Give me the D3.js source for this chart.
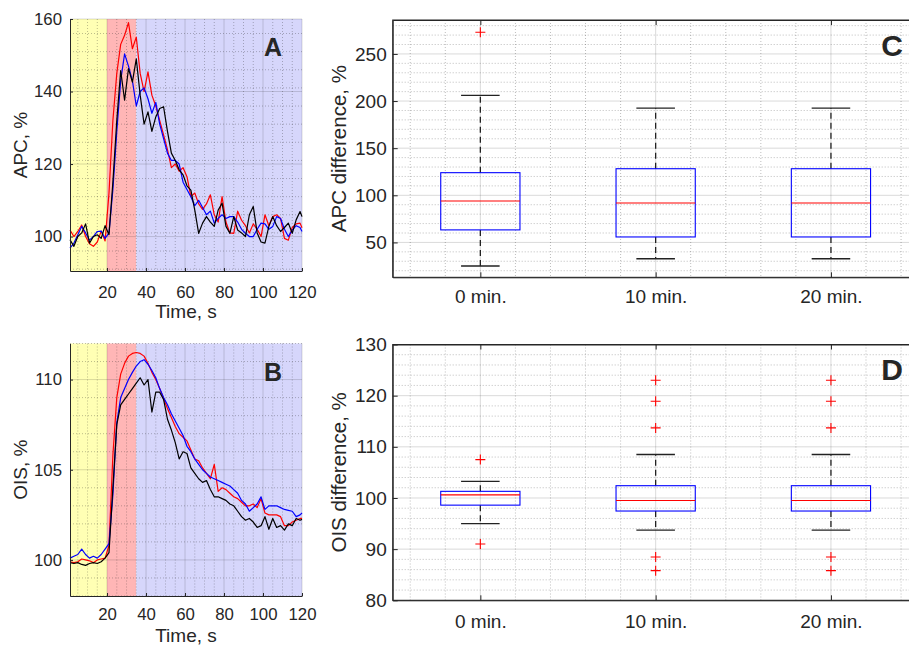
<!DOCTYPE html>
<html>
<head>
<meta charset="utf-8">
<script src="https://cdn.jsdelivr.net/npm/d3@7"></script>
<style>
body { margin: 0; background: #fff; }
text { font-family: 'Liberation Sans', Arial, Helvetica, sans-serif; fill: #262626; }
</style>
</head>
<body>
<svg width="909" height="648"></svg>
<script>
const svg = d3.select('svg');

// ---- data: time courses (A: APC, B: OIS), sampled every 2 s ----
const time = [1,3,5,7,9,11,13,15,17,19,21,23,25,27,29,31,33,35,37,39,41,43,45,47,49,51,53,55,57,59,
  61,63,65,67,69,71,73,75,77,79,81,83,85,87,89,91,93,95,97,99,101,103,105,107,109,111,113,115,117,119,120];

const apcRed = [101.8,100,101.4,103.2,100,98,97.3,98.5,101.5,98.8,
  112,132,145,153,155.5,159,151.8,155,145,140,
  145.4,139,136,132,128,124,119,120,118,119,
  116.5,111,112,109,107.5,109,111.5,106,104,111,
  104,101,100.9,107,104.5,103,101,103.5,102,100,
  106,103,105.5,106,105,99.5,99,102.5,103.5,103.7,
  102.4];
const apcBlue = [96.8,98.2,100.5,102.8,101,99,100,101.4,101.5,99.5,
  101,113,129,143,150.4,147,143,136,140,141,
  138,134,137,131,127,123,121,121,120,115,
  113,111,108.5,110,108,106,107,103.7,105,106,
  105,105.5,105.5,104,102,100.9,100,100,102,103.7,
  103.5,102,102.8,105.5,105,102,100,101.8,103,102.5,
  101.4];
const apcBlack = [99.1,97.3,100,101,103.5,98.2,100,100.5,99.5,103,
  100.5,115,132,145.8,137.6,146.3,142.6,149,139,131,
  134.4,129,133,135.3,135.8,129,123,121,118.4,117,
  114,112.8,107.3,100.9,103.7,105.5,104,102.8,107.3,109.2,
  102.8,100.9,105.5,101.8,101,100,106,108.3,101,98.5,
  98.2,102.8,105.5,103,101.4,102.5,103.7,100.9,104.6,106.9,
  105.5];

const oisRed = [99.9,99.85,99.9,100.05,100,99.95,99.85,100,100.05,100.1,
  100.8,105.8,109,110.3,110.9,111.3,111.45,111.5,111.45,111.3,
  110.9,110.4,110,109.5,108.95,108.4,107.9,107.4,107,106.8,
  106.6,106.1,105.6,105.5,105.1,104.8,104.5,105.3,103.8,104,
  103.9,103.7,103.5,103.4,103.2,103,103,103.1,102.9,103.4,
  102.6,102.5,102.5,102.5,102.4,101.9,101.9,102.1,102.2,102.3,
  102.3];
const oisBlue = [100.1,100.2,100.3,100.6,100.3,100.1,100.2,100.1,100.3,100.6,
  100.9,103.6,107.6,109,109.5,110,110.4,110.75,111,111.1,
  110.85,110.5,110.1,109.5,109,108.6,108.1,107.7,107.3,106.9,
  106.3,106,105.6,105.3,105,104.8,104.6,104.5,104.4,104.3,
  104.2,104.1,103.9,103.7,103.3,103.1,102.7,102.9,103.1,103.5,
  102.8,103,103,103,102.9,102.8,102.75,102.7,102.4,102.5,
  102.6];
const oisBlack = [99.85,99.8,99.85,99.75,99.7,99.8,99.85,99.8,99.9,100.1,
  100.4,104,107.5,108.6,108.9,109.2,109.5,109.8,110.1,109.7,
  110,108.2,109.3,109.3,108.9,107.8,107.2,106.5,105.6,106,
  105.9,105.1,104.8,104.5,104.3,104.4,103.9,103.5,103.5,103.4,
  103.3,103.1,103,102.7,102.4,102.2,102.3,102.1,101.8,101.9,
  102.4,101.7,102.3,101.8,101.9,101.65,102,101.9,102.3,102.2,
  102.25];

// phase boundaries, s (rest / stimulus / recovery)
const phaseBounds = [1, 20, 35, 120];

const timeTicks = [20, 40, 60, 80, 100, 120];
const apcTicks = [100, 120, 140, 160];
const oisTicks = [100, 105, 110];

// ---- data: box plots (C: APC difference, D: OIS difference) ----
const boxCategories = ['0 min.', '10 min.', '20 min.'];

const apcLow = [25, 32.7, 32.7];
const apcQ1 = [63.3, 55.8, 55.8];
const apcMedian = [94, 91.8, 91.8];
const apcQ3 = [124, 128.2, 128.2];
const apcHigh = [206, 192.6, 192.6];
const apcOutliers = [[273], [], []];
const apcDiffTicks = [50, 100, 150, 200, 250];

const oisLow = [95, 93.7, 93.7];
const oisQ1 = [98.6, 97.45, 97.45];
const oisMedian = [100.6, 99.5, 99.5];
const oisQ3 = [101.3, 102.4, 102.4];
const oisHigh = [103.25, 108.5, 108.5];
const oisOutliers = [[107.5, 91], [123, 118.9, 113.7, 88.45, 85.8], [123, 118.9, 113.7, 88.45, 85.8]];
const oisDiffTicks = [80, 90, 100, 110, 120, 130];

// ---- styles ----
const axisColor = '#262626';
const seriesColors = ['#ff0000', '#0000ff', '#000000'];
const bandColors = ['#ffffb4', '#ffb6b6', '#d6d6fb'];

const grid = (g, x1, x2, y1, y2, minor) => {
  g.append('line')
    .attr('x1', x1).attr('x2', x2).attr('y1', y1).attr('y2', y2)
    .attr('stroke', axisColor)
    .attr('stroke-opacity', minor ? 0.3 : 0.17)
    .attr('stroke-dasharray', minor ? '1,2' : null)
    .attr('stroke-width', 1);
};

// ---- line panels ----
const linePanel = cfg => {
  const x = d3.scaleLinear().domain([1, 120]).range([70, 302]);
  const y = d3.scaleLinear().domain(cfg.yDomain).range([cfg.bottom, cfg.top]);
  const g = svg.append('g');

  // coloured phases
  g.selectAll('rect.band').data(d3.pairs(phaseBounds))
    .enter().append('rect')
      .attr('x', d => x(d[0]))
      .attr('width', d => x(d[1]) - x(d[0]))
      .attr('y', cfg.top)
      .attr('height', cfg.bottom - cfg.top)
      .attr('fill', (d, i) => bandColors[i]);

  // grid
  d3.range(5, 120, 5).filter(t => t % 20 !== 0)
    .forEach(t => grid(g, x(t), x(t), cfg.top, cfg.bottom, true));
  d3.range(Math.ceil(cfg.yDomain[0]), cfg.yDomain[1] + 0.01, cfg.minorStep)
    .filter(v => !cfg.ticks.includes(v))
    .forEach(v => grid(g, 70, 302, y(v), y(v), true));
  timeTicks.forEach(t => grid(g, x(t), x(t), cfg.top, cfg.bottom, false));
  cfg.ticks.forEach(v => grid(g, 70, 302, y(v), y(v), false));

  // series
  const line = d3.line().x((d, i) => x(time[i])).y(d => y(d));
  cfg.series.forEach((s, i) => {
    g.append('path')
      .datum(s)
      .attr('d', line)
      .attr('fill', 'none')
      .attr('stroke', seriesColors[i])
      .attr('stroke-width', 1.2)
      .attr('stroke-linejoin', 'round');
  });

  // axes
  const yAxisG = g.append('g')
    .attr('transform', `translate(70,0)`)
    .call(d3.axisLeft(y).tickValues(cfg.ticks).tickSize(-3).tickSizeOuter(0).tickPadding(8));
  const xAxisG = g.append('g')
    .attr('transform', `translate(0,${cfg.bottom})`)
    .call(d3.axisBottom(x).tickValues(timeTicks).tickSize(-3).tickSizeOuter(0).tickPadding(cfg.xPad));
  [yAxisG, xAxisG].forEach(a => {
    a.selectAll('path, line').attr('stroke', axisColor);
    a.selectAll('text').attr('font-size', '16.8px').attr('fill', axisColor)
      .style('font-family', "'Liberation Sans', Arial, sans-serif");
  });

  g.append('text')
    .attr('x', 186).attr('y', cfg.xLabelY)
    .attr('text-anchor', 'middle')
    .attr('font-size', '19px')
    .text('Time, s');

  g.append('text')
    .attr('transform', `translate(27,${(cfg.top + cfg.bottom) / 2}) rotate(-90)`)
    .attr('text-anchor', 'middle')
    .attr('font-size', '19px')
    .text(cfg.yLabel);

  g.append('text')
    .attr('x', 273).attr('y', cfg.top + 37)
    .attr('text-anchor', 'middle')
    .attr('font-size', '25px')
    .attr('font-weight', 'bold')
    .attr('fill', '#000')
    .text(cfg.letter);
};

linePanel({ top: 19, bottom: 271, yDomain: [90.5, 160], ticks: apcTicks, minorStep: 5,
  series: [apcRed, apcBlue, apcBlack], yLabel: 'APC, %', letter: 'A', xPad: 15, xLabelY: 318 });
linePanel({ top: 343.5, bottom: 596, yDomain: [98, 112], ticks: oisTicks, minorStep: 1,
  series: [oisRed, oisBlue, oisBlack], yLabel: 'OIS, %', letter: 'B', xPad: 12, xLabelY: 642 });

// ---- box panels ----
const boxPanel = cfg => {
  const left = 392.7, right = 918.6;
  const x = d3.scaleLinear().domain([0.5, 3.5]).range([left, right]);
  const y = d3.scaleLinear().domain(cfg.yDomain).range([cfg.bottom, cfg.top]);
  const g = svg.append('g');

  // grid
  d3.range(0.6, 3.5, 0.2).map(v => Math.round(v * 10) / 10)
    .filter(v => v % 1 !== 0)
    .forEach(v => grid(g, x(v), x(v), cfg.top, cfg.bottom, true));
  d3.range(Math.ceil(cfg.yDomain[0] / cfg.minorStep) * cfg.minorStep, cfg.yDomain[1] + 0.01, cfg.minorStep)
    .filter(v => !cfg.ticks.includes(v))
    .forEach(v => grid(g, left, right, y(v), y(v), true));
  [1, 2, 3].forEach(v => grid(g, x(v), x(v), cfg.top, cfg.bottom, false));
  cfg.ticks.forEach(v => grid(g, left, right, y(v), y(v), false));

  const boxW = 0.452, capW = 0.22;
  boxCategories.forEach((c, i) => {
    const cx = x(i + 1);
    const bw = x(1 + boxW / 2) - x(1);
    const cw = x(1 + capW / 2) - x(1);
    // whiskers
    [[cfg.q3[i], cfg.high[i]], [cfg.q1[i], cfg.low[i]]].forEach(w => {
      g.append('line')
        .attr('x1', cx).attr('x2', cx).attr('y1', y(w[0])).attr('y2', y(w[1]))
        .attr('stroke', '#222').attr('stroke-width', 1.3).attr('stroke-dasharray', '6,4');
      g.append('line')
        .attr('x1', cx - cw).attr('x2', cx + cw).attr('y1', y(w[1])).attr('y2', y(w[1]))
        .attr('stroke', '#222').attr('stroke-width', 1.3);
    });
    g.append('rect')
      .attr('x', cx - bw).attr('width', 2 * bw)
      .attr('y', y(cfg.q3[i])).attr('height', y(cfg.q1[i]) - y(cfg.q3[i]))
      .attr('fill', 'none').attr('stroke', '#0000ff').attr('stroke-width', 1.1);
    g.append('line')
      .attr('x1', cx - bw).attr('x2', cx + bw).attr('y1', y(cfg.median[i])).attr('y2', y(cfg.median[i]))
      .attr('stroke', '#ff0000').attr('stroke-width', 1.1);
    cfg.outliers[i].forEach(o => {
      g.append('path')
        .attr('d', `M${cx - 5},${y(o)}H${cx + 5}M${cx},${y(o) - 5}V${y(o) + 5}`)
        .attr('stroke', '#ff0000').attr('stroke-width', 1.1);
    });
  });

  // frame and axes
  g.append('rect')
    .attr('x', left).attr('y', cfg.top)
    .attr('width', right - left).attr('height', cfg.bottom - cfg.top)
    .attr('fill', 'none').attr('stroke', axisColor).attr('stroke-width', 1);
  const yAxisG = g.append('g')
    .attr('transform', `translate(${left},0)`)
    .call(d3.axisLeft(y).tickValues(cfg.ticks).tickSize(-5).tickSizeOuter(0).tickPadding(6));
  const xAxisG = g.append('g')
    .attr('transform', `translate(0,${cfg.bottom})`)
    .call(d3.axisBottom(x).tickValues([1, 2, 3]).tickFormat((d, i) => boxCategories[i])
      .tickSize(-5).tickSizeOuter(0).tickPadding(cfg.xPad));
  const topAxisG = g.append('g')
    .attr('transform', `translate(0,${cfg.top})`)
    .call(d3.axisTop(x).tickValues([1, 2, 3]).tickFormat('').tickSize(-5).tickSizeOuter(0));
  [yAxisG, xAxisG, topAxisG].forEach(a => {
    a.selectAll('path, line').attr('stroke', axisColor);
    a.selectAll('text').attr('font-size', '19px').attr('fill', axisColor)
      .style('font-family', "'Liberation Sans', Arial, sans-serif");
  });

  g.append('text')
    .attr('transform', `translate(346,${(cfg.top + cfg.bottom) / 2}) rotate(-90)`)
    .attr('text-anchor', 'middle')
    .attr('font-size', '20.5px')
    .text(cfg.yLabel);

  g.append('text')
    .attr('x', 892).attr('y', cfg.top + 35.5)
    .attr('text-anchor', 'middle')
    .attr('font-size', '30px')
    .attr('font-weight', 'bold')
    .attr('fill', '#000')
    .text(cfg.letter);
};

boxPanel({ top: 20, bottom: 277.3, yDomain: [13, 286], ticks: apcDiffTicks, minorStep: 10,
  low: apcLow, q1: apcQ1, median: apcMedian, q3: apcQ3, high: apcHigh, outliers: apcOutliers,
  yLabel: 'APC difference, %', letter: 'C', xPad: 12.5 });
boxPanel({ top: 344.5, bottom: 600.3, yDomain: [80, 130], ticks: oisDiffTicks, minorStep: 2,
  low: oisLow, q1: oisQ1, median: oisMedian, q3: oisQ3, high: oisHigh, outliers: oisOutliers,
  yLabel: 'OIS difference, %', letter: 'D', xPad: 14 });
</script>
</body>
</html>
